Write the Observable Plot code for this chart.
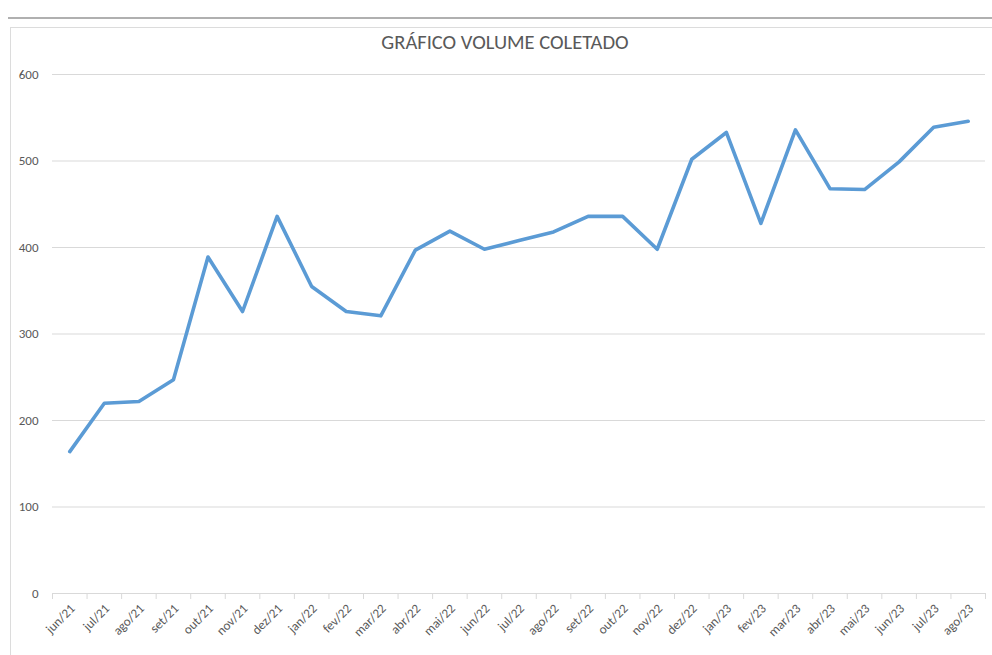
<!DOCTYPE html>
<html>
<head>
<meta charset="utf-8">
<script src="https://cdn.jsdelivr.net/npm/d3@7"></script>
<script src="https://cdn.jsdelivr.net/npm/@observablehq/plot@0.6"></script>
<style>
  html, body { margin: 0; padding: 0; background: #fff; }
  #wrap { position: relative; width: 992px; height: 655px; overflow: hidden; }
  #topline { position: absolute; left: 8px; right: 0; top: 17px; height: 2px; background: #b0b0b0; }
  #frame { position: absolute; left: 10px; top: 27px; right: -2px; bottom: -2px; border-left: 1px solid #dcdcdc; border-top: 1px solid #dcdcdc; }
  #title { position: absolute; left: 0; width: 1010px; top: 29px; text-align: center;
    font-family: Carlito, "Liberation Sans Narrow", Lato, "Open Sans", sans-serif; font-size: 20.5px; color: #595959; }
  #chart { position: absolute; left: 0; top: 0; }
</style>
</head>
<body>
<div id="wrap">
  <div id="topline"></div>
  <div id="frame"></div>
  <div id="chart"></div>
  <div id="title">GRÁFICO VOLUME COLETADO</div>
</div>
<script>
const months = ["jun/21","jul/21","ago/21","set/21","out/21","nov/21","dez/21","jan/22","fev/22","mar/22","abr/22","mai/22","jun/22","jul/22","ago/22","set/22","out/22","nov/22","dez/22","jan/23","fev/23","mar/23","abr/23","mai/23","jun/23","jul/23","ago/23"];
const volumes = [164, 220, 222, 247, 389, 326, 436, 355, 326, 321, 397, 419, 398, 408, 418, 436, 436, 398, 502, 533, 428, 536, 468, 467, 499, 539, 546];
const yTicks = [0, 100, 200, 300, 400, 500, 600];

const data = months.map((m, i) => ({month: m, value: volumes[i]}));

const W = 992, H = 655, mL = 52, mR = 7, mT = 74, mB = 62;
const step = (W - mL - mR) / months.length;
const font = 'Carlito, "Liberation Sans Narrow", Lato, "Open Sans", sans-serif';

const chart = Plot.plot({
  width: W,
  height: H,
  marginLeft: mL,
  marginRight: mR,
  marginTop: mT,
  marginBottom: mB,
  style: {fontFamily: font, fontSize: "13px", color: "#595959", background: "transparent"},
  x: {type: "point", domain: months, padding: 0.5, round: false, axis: null},
  y: {type: "linear", domain: [0, 600], axis: null},
  marks: [
    Plot.ruleY(yTicks.filter(d => d > 0), {stroke: "#d9d9d9", strokeWidth: 1}),
    Plot.ruleY([0], {stroke: "#d9d9d9", strokeWidth: 1.2}),
    Plot.ruleX(months, {x: d => d, dx: -step / 2, y1: () => 0, y2: () => 0, stroke: "#d9d9d9", insetBottom: -6}),
    Plot.ruleX([months[months.length - 1]], {x: d => d, dx: step / 2, y1: () => 0, y2: () => 0, stroke: "#d9d9d9", insetBottom: -6}),
    Plot.text(yTicks, {x: () => months[0], y: d => d, text: d => String(d), dx: -step / 2 - 14, textAnchor: "end", fill: "#595959", fontSize: 13}),
    Plot.text(months, {x: d => d, y: () => 0, text: d => d, rotate: -45, textAnchor: "end", dx: 3, dy: 13, fill: "#595959", fontSize: 13}),
    Plot.line(data, {x: "month", y: "value", stroke: "#5b9bd5", strokeWidth: 3.6, strokeLinejoin: "round", strokeLinecap: "round"})
  ]
});
document.getElementById("chart").appendChild(chart);
</script>
</body>
</html>
